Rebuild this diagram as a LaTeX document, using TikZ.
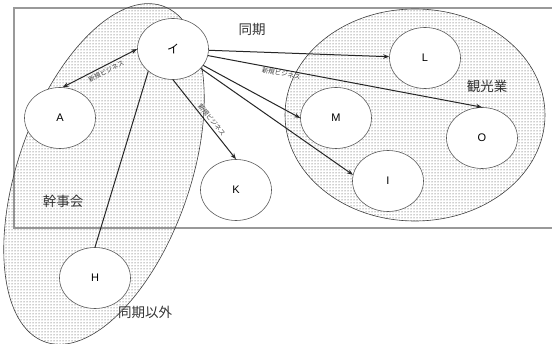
\documentclass[tikz,border=0pt]{standalone}
\usepackage{fontspec}
\setmainfont{Liberation Sans}
\newfontfamily\jp{Noto Sans CJK JP}
\usetikzlibrary{shapes.geometric,patterns,arrows.meta}

\begin{document}
\begin{tikzpicture}[x=1pt,y=-1pt,
  ent/.style={ellipse, draw=black!65, line width=0.6pt, fill=white,
    minimum width=71pt, minimum height=61pt, inner sep=0pt,
    font=\fontsize{11}{13}\selectfont},
  grp/.style={ellipse, draw=black!75, line width=0.6pt, pattern=dots,
    pattern color=black!80, inner sep=0pt},
  conn/.style={line width=1pt, draw=black!85},
  tip/.tip={Stealth[length=6pt,width=4.5pt]},
  arr/.style={conn, -tip},
  biz/.style={font=\jp\fontsize{6.5}{7}\selectfont, text=black!75, sloped, inner sep=1pt},
  tag/.style={font=\jp\fontsize{13.5}{15}\selectfont, text=black!80, inner sep=0pt}]

\useasboundingbox (0,0) rectangle (552,344);
\fill[white] (0,0) rectangle (552,344);

% frame of the 同期 group, open on the right
\draw[line width=1.4pt, draw=black!40] (553,8) -- (14,8) -- (14,228) -- (553,228);

% dotted group areas
\node[grp, minimum width=356pt, minimum height=172pt, rotate=70.7] (kanji) at (104,174) {};
\node[grp, minimum width=260pt, minimum height=212pt] (kanko) at (415,115) {};

% group labels
\node[tag] (tdouki) at (252,29) {同期};
\node[tag] (tkanji) at (63,201) {幹事会};
\node[tag] (tigai) at (145,312) {同期以外};
\node[tag] (tkanko) at (487,86) {観光業};

% members
\node[ent] (a) at (60,118) {A};
\node[ent, font=\jp\fontsize{12}{14}\selectfont] (i) at (173,49) {イ};
\node[ent] (k) at (236,190) {K};
\node[ent] (h) at (95,278) {H};
\node[ent] (l) at (425,58) {L};
\node[ent] (m) at (336,118) {M};
\node[ent] (o) at (482,138) {O};
\node[ent] (ii) at (388,181) {I};

% relations
\draw[conn, tip-tip] (a.85) -- node[biz, below, pos=0.55, inner sep=2pt] {新規ビジネス} (i.west);
\draw[conn] (h.north) -- (i.222);
\draw[arr] (i.south) -- node[biz, above, pos=0.55, inner sep=2pt] {新規ビジネス} (k.north);
\draw[arr] (i) -- (l);
\draw[arr] (i) -- node[biz, below, pos=0.27, inner sep=0.5pt] {新規ビジネス} (o.north);
\draw[arr] (i) -- (m.west);
\draw[arr] (i) -- (ii.170);
\end{tikzpicture}
\end{document}
